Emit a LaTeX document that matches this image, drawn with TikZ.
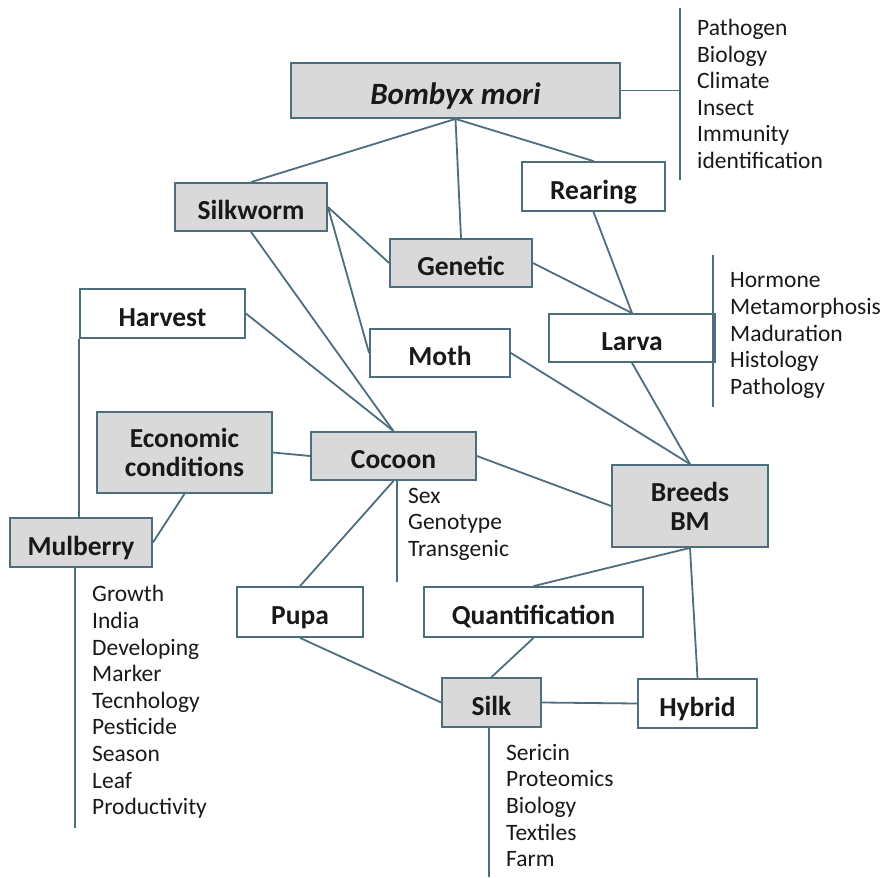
\documentclass[tikz,border=0pt]{standalone}
\usepackage{fontspec}
\setmainfont{Carlito}
\definecolor{edge}{HTML}{4D6E7D}
\definecolor{boxgray}{HTML}{D9D9D9}
\tikzset{
  box/.style={draw=edge, line width=1.8pt, rectangle, inner sep=0pt, align=center,
    font=\bfseries\fontsize{27.5}{29}\selectfont, text=black!90},
  gbox/.style={box, fill=boxgray},
  wbox/.style={box, fill=white},
  one/.style={text height=26.5pt, text depth=1.2pt},
  conn/.style={draw=edge, line width=1.8pt},
  listtxt/.style={anchor=west, inner sep=0pt, align=left, font=\fontsize{23.5}{26.6}\selectfont, text=black!90}
}
\begin{document}
\begin{tikzpicture}[x=1pt,y=-1pt]
\useasboundingbox (0,0) rectangle (882,877);
\fill[white] (0,0) rectangle (882,877);

% boxes
\node[gbox, text height=30pt, text depth=1.4pt, minimum width=329pt, minimum height=55pt, font=\bfseries\itshape\fontsize{31}{33}\selectfont] (bombyx) at (455.5,90.5) {Bombyx mori};
\node[gbox, one, minimum width=152pt, minimum height=48pt] (silkworm) at (251,207) {Silkworm};
\node[wbox, one, minimum width=143pt, minimum height=49pt] (rearing) at (593.5,186.5) {Rearing};
\node[gbox, one, minimum width=142pt, minimum height=48pt] (genetic) at (461,263) {Genetic};
\node[wbox, one, minimum width=165pt, minimum height=49pt] (harvest) at (162.5,313.5) {Harvest};
\node[wbox, one, minimum width=140pt, minimum height=48pt] (moth) at (440,353) {Moth};
\node[wbox, one, minimum width=166pt, minimum height=48pt] (larva) at (632,338) {Larva};
\node[gbox, minimum width=175pt, minimum height=81pt] (econ) at (184.5,452.5) {Economic\\conditions};
\node[gbox, one, minimum width=165pt, minimum height=48pt] (cocoon) at (393.5,456) {Cocoon};
\node[gbox, minimum width=156pt, minimum height=82pt] (breeds) at (690,506) {Breeds\\BM};
\node[gbox, one, minimum width=142pt, minimum height=49pt] (mulberry) at (81,542.5) {Mulberry};
\node[wbox, one, minimum width=126pt, minimum height=50pt] (pupa) at (300,612) {Pupa};
\node[wbox, one, minimum width=219pt, minimum height=50pt] (quant) at (533.5,612) {Quantification};
\node[gbox, one, minimum width=99pt, minimum height=49pt] (silk) at (491.5,702.5) {Silk};
\node[wbox, one, minimum width=119pt, minimum height=49pt] (hybrid) at (697.5,703.5) {Hybrid};

% connectors
\draw[conn] (bombyx.south) -- (silkworm.north);
\draw[conn] (bombyx.south) -- (genetic.north);
\draw[conn] (bombyx.south) -- (rearing.north);
\draw[conn] (silkworm.east) -- (genetic.west);
\draw[conn] (silkworm.east) -- (moth.west);
\draw[conn] (silkworm.south) -- (cocoon.north);
\draw[conn] (harvest.east) -- (cocoon.north);
\draw[conn] (harvest.south west) -- (harvest.south west |- mulberry.north);
\draw[conn] (genetic.east) -- (larva.north);
\draw[conn] (rearing.south) -- (larva.north);
\draw[conn] (moth.east) -- (breeds.north);
\draw[conn] (larva.south) -- (breeds.north);
\draw[conn] (cocoon.east) -- (breeds.west);
\draw[conn] (econ.east) -- (cocoon.west);
\draw[conn] (econ.south) -- (mulberry.east);
\draw[conn] (cocoon.south) -- (pupa.north);
\draw[conn] (breeds.south) -- (quant.north);
\draw[conn] (breeds.south) -- (hybrid.north);
\draw[conn] (pupa.south) -- (silk.west);
\draw[conn] (quant.south) -- (silk.north);
\draw[conn] (silk.east) -- (hybrid.west);

% side lists
\coordinate (bl1) at (680,8);
\coordinate (bl2) at (680,180);
\draw[conn] (bl1) -- (bl2);
\draw[conn] (bombyx.east) -- (bombyx.east -| bl1);
\node[listtxt] (blist) at (697,94) {Pathogen\\Biology\\Climate\\Insect\\Immunity\\identification};

\coordinate (ll1) at (713,255);
\coordinate (ll2) at (713,407);
\draw[conn] (ll1) -- (ll2);
\node[listtxt] (llist) at (730,335.5) {Hormone\\Metamorphosis\\Maduration\\Histology\\Pathology};

\coordinate (cl2) at (397,582);
\draw[conn] (cocoon.south -| cl2) -- (cl2);
\node[listtxt] (clist) at (408,524) {Sex\\Genotype\\Transgenic};

\coordinate (ml2) at (75,828);
\draw[conn] (mulberry.south -| ml2) -- (ml2);
\node[listtxt] (mlist) at (92,702) {Growth\\India\\Developing\\Marker\\Tecnhology\\Pesticide\\Season\\Leaf\\Productivity};

\coordinate (sl2) at (489,877);
\draw[conn] (silk.south -| sl2) -- (sl2);
\node[listtxt] (slist) at (506,805.5) {Sericin\\Proteomics\\Biology\\Textiles\\Farm};
\end{tikzpicture}
\end{document}
